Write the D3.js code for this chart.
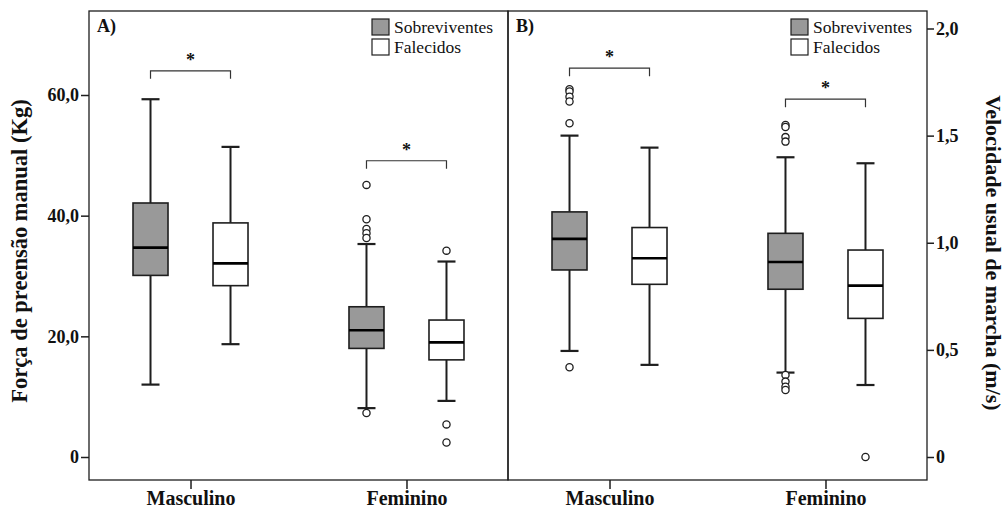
<!DOCTYPE html>
<html><head><meta charset="utf-8">
<script src="https://cdn.jsdelivr.net/npm/d3@7"></script>
<style>body{margin:0;background:#fff;} svg{display:block;}</style>
</head><body>
<svg id="c" width="1007" height="511"></svg>
<script>
const categories = ["Masculino", "Feminino"];
const groups = ["Sobreviventes", "Falecidos"];
// [lower whisker, Q1, median, Q3, upper whisker] per category
const gripSobreviventes = [[12.0, 30.1, 34.7, 42.1, 59.3], [8.1, 18.0, 21.0, 24.9, 35.3]];
const gripFalecidos = [[18.7, 28.4, 32.1, 38.8, 51.4], [9.3, 16.1, 19.0, 22.7, 32.4]];
const gripOutSobreviventes = [[], [45.1, 39.4, 37.8, 37.1, 36.3, 7.3]];
const gripOutFalecidos = [[], [34.2, 5.4, 2.4]];
const speedSobreviventes = [[0.495, 0.873, 1.018, 1.144, 1.50], [0.394, 0.783, 0.910, 1.044, 1.399]];
const speedFalecidos = [[0.430, 0.806, 0.928, 1.071, 1.444], [0.336, 0.647, 0.800, 0.966, 1.371]];
const speedOutSobreviventes = [[1.717, 1.706, 1.682, 1.659, 1.558, 0.419], [1.55, 1.54, 1.493, 1.472, 0.383, 0.352, 0.328, 0.313]];
const speedOutFalecidos = [[], [0.0]];
const gripTicks = [0, 20, 40, 60];
const gripTickLabels = ["0", "20,0", "40,0", "60,0"];
const speedTicks = [0, 0.5, 1.0, 1.5, 2.0];
const speedTickLabels = ["0", "0,5", "1,0", "1,5", "2,0"];
const gripBrackets = [64.0, 49.1];
const speedBrackets = [1.815, 1.670];
const panelLabels = ["A)", "B)"];
const gripTitle = "Força de preensão manual (Kg)";
const speedTitle = "Velocidade usual de marcha (m/s)";

const svg = d3.select("#c");
const FONT = "'Liberation Serif', 'Times New Roman', serif";
const frameTop = 11, frameBottom = 480;
const fills = {Sobreviventes: "#999999", Falecidos: "#ffffff"};
const ink = "#1e1e1e";

const gripY = d3.scaleLinear().domain([0, 60]).range([457, 95]);
const speedY = d3.scaleLinear().domain([0, 2]).range([457, 28.5]);

const panels = [
  {x0: 89, x1: 508, y: gripY, stats: {Sobreviventes: gripSobreviventes, Falecidos: gripFalecidos},
   outs: {Sobreviventes: gripOutSobreviventes, Falecidos: gripOutFalecidos}, brackets: gripBrackets, label: panelLabels[0]},
  {x0: 508, x1: 927, y: speedY, stats: {Sobreviventes: speedSobreviventes, Falecidos: speedFalecidos},
   outs: {Sobreviventes: speedOutSobreviventes, Falecidos: speedOutFalecidos}, brackets: speedBrackets, label: panelLabels[1]}
];

const xGroup = d3.scalePoint().domain(groups).range([-40, 40]);
const boxW = 35, capW = 18;

panels.forEach((p, pi) => {
  const g = svg.append("g");
  const xCat = d3.scalePoint().domain(categories).range([p.x0, p.x1]).padding(0.47);

  g.append("rect").attr("x", p.x0).attr("y", frameTop).attr("width", p.x1 - p.x0).attr("height", frameBottom - frameTop)
    .attr("fill", "none").attr("stroke", ink).attr("stroke-width", 1.3);

  const xa = g.append("g").attr("transform", `translate(0,${frameBottom})`)
    .call(d3.axisBottom(xCat).tickSize(9).tickSizeOuter(0).tickPadding(2));
  xa.select(".domain").remove();
  xa.selectAll("line").attr("stroke", ink).attr("stroke-width", 1.5);
  xa.selectAll("text").attr("font-family", FONT).attr("font-size", "20px").attr("font-weight", "bold").attr("fill", "#111");

  categories.forEach((cat, ci) => {
    groups.forEach(gr => {
      const s = p.stats[gr][ci];
      const cx = xCat(cat) + xGroup(gr);
      const y = p.y;
      g.append("line").attr("x1", cx).attr("x2", cx).attr("y1", y(s[4])).attr("y2", y(s[3]))
        .attr("stroke", ink).attr("stroke-width", 2);
      g.append("line").attr("x1", cx).attr("x2", cx).attr("y1", y(s[1])).attr("y2", y(s[0]))
        .attr("stroke", ink).attr("stroke-width", 2);
      [s[0], s[4]].forEach(v => g.append("line").attr("x1", cx - capW / 2).attr("x2", cx + capW / 2)
        .attr("y1", y(v)).attr("y2", y(v)).attr("stroke", ink).attr("stroke-width", 2.2));
      g.append("rect").attr("x", cx - boxW / 2).attr("y", y(s[3])).attr("width", boxW).attr("height", y(s[1]) - y(s[3]))
        .attr("fill", fills[gr]).attr("stroke", ink).attr("stroke-width", 1.6);
      g.append("line").attr("x1", cx - boxW / 2).attr("x2", cx + boxW / 2).attr("y1", y(s[2])).attr("y2", y(s[2]))
        .attr("stroke", "#000").attr("stroke-width", 2.6);
      p.outs[gr][ci].forEach(v => g.append("circle").attr("cx", cx).attr("cy", y(v)).attr("r", 3.6)
        .attr("fill", "#fff").attr("stroke", ink).attr("stroke-width", 1.3));
    });
    const by = p.y(p.brackets[ci]);
    const xa0 = xCat(cat) + xGroup(groups[0]), xa1 = xCat(cat) + xGroup(groups[1]);
    g.append("path").attr("d", `M${xa0},${by + 8}V${by}H${xa1}V${by + 8}`)
      .attr("fill", "none").attr("stroke", "#333").attr("stroke-width", 1.2);
    g.append("text").attr("x", xCat(cat)).attr("y", by - 5).attr("text-anchor", "middle")
      .attr("font-family", FONT).attr("font-size", "18px").attr("font-weight", "bold").attr("fill", "#111").text("*");
  });

  g.append("text").attr("x", p.x0 + 8).attr("y", 32).attr("font-family", FONT).attr("font-size", "18px")
    .attr("font-weight", "bold").attr("fill", "#111").text(p.label);

  const lx = p.x1 - 136;
  groups.forEach((gr, i) => {
    g.append("rect").attr("x", lx).attr("y", 19 + i * 20).attr("width", 17).attr("height", 16)
      .attr("fill", fills[gr]).attr("stroke", ink).attr("stroke-width", 1.2);
    g.append("text").attr("x", lx + 22).attr("y", 33 + i * 19.5).attr("font-family", FONT).attr("font-size", "17.5px")
      .attr("fill", "#111").text(gr);
  });
});

const ya = svg.append("g").attr("transform", "translate(89,0)")
  .call(d3.axisLeft(gripY).tickValues(gripTicks).tickFormat((d, i) => gripTickLabels[i]).tickSize(8).tickSizeOuter(0).tickPadding(2));
ya.select(".domain").remove();
ya.selectAll("line").attr("stroke", ink).attr("stroke-width", 1.5);
ya.selectAll("text").attr("font-family", FONT).attr("font-size", "18px").attr("font-weight", "bold").attr("fill", "#111");

const yb = svg.append("g").attr("transform", "translate(927,0)")
  .call(d3.axisRight(speedY).tickValues(speedTicks).tickFormat((d, i) => speedTickLabels[i]).tickSize(7).tickSizeOuter(0).tickPadding(2));
yb.select(".domain").remove();
yb.selectAll("line").attr("stroke", ink).attr("stroke-width", 1.5);
yb.selectAll("text").attr("font-family", FONT).attr("font-size", "18px").attr("font-weight", "bold").attr("fill", "#111");

svg.append("text").attr("transform", "translate(27,251) rotate(-90)").attr("text-anchor", "middle")
  .attr("font-family", FONT).attr("font-size", "22.5px").attr("font-weight", "bold").attr("fill", "#111").text(gripTitle);
svg.append("text").attr("transform", "translate(986,253) rotate(90)").attr("text-anchor", "middle")
  .attr("font-family", FONT).attr("font-size", "22px").attr("font-weight", "bold").attr("fill", "#111").text(speedTitle);
</script>
</body></html>
